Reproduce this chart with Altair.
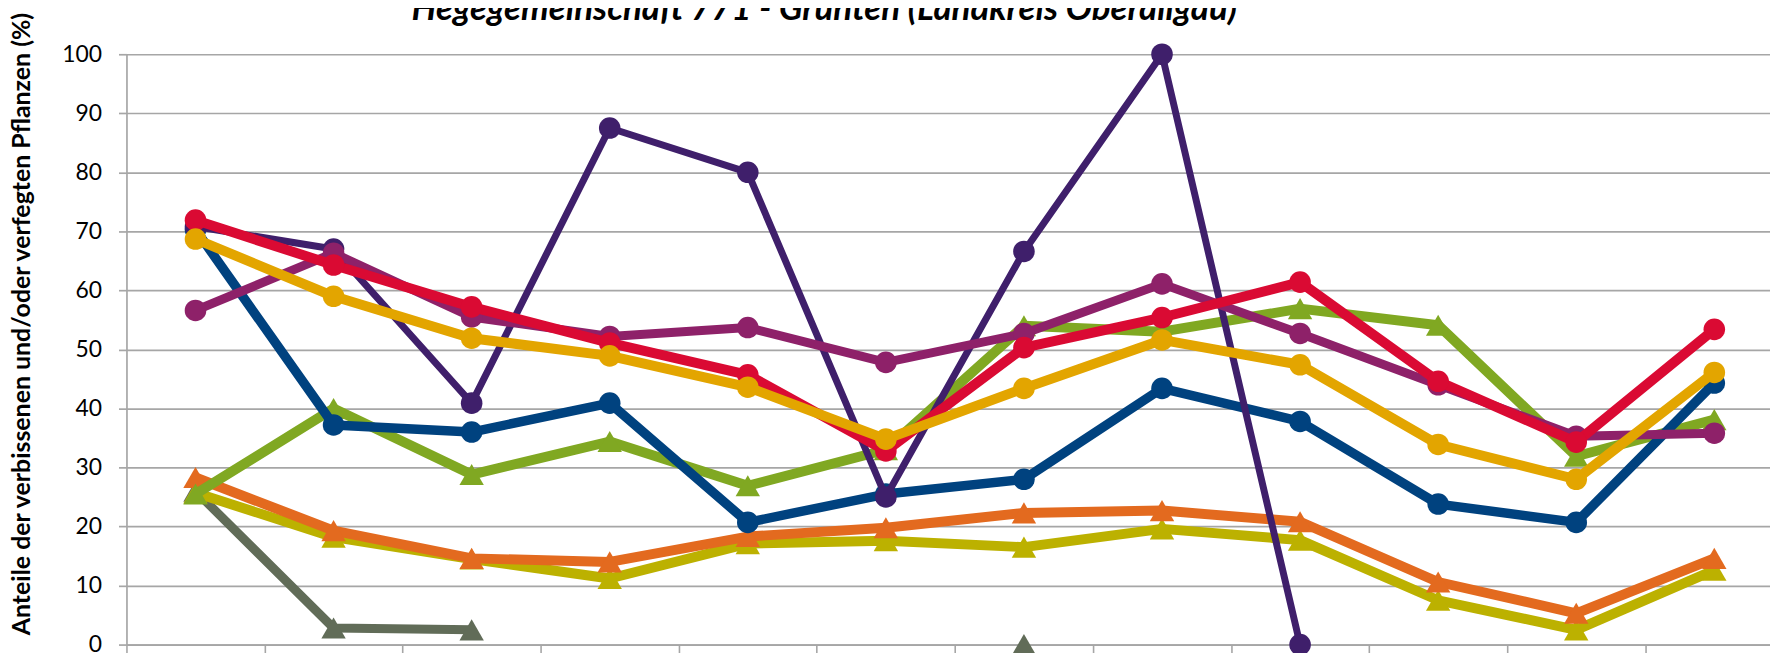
import altair as alt
import pandas as pd

# ---------------- data ----------------
years = [1991, 1994, 1997, 2000, 2003, 2006, 2009, 2012, 2015, 2018, 2021, 2024]

title_text = "Hegegemeinschaft 771 - Grünten (Landkreis Oberallgäu)"
y_title = "Anteile der verbissenen und/oder verfegten Pflanzen (%)"
y_ticks = [0, 10, 20, 30, 40, 50, 60, 70, 80, 90, 100]

s_gray = [26.0, 2.8, 2.5, None, None, None, 0.0, None, None, None, None, None]
s_olive = [25.7, 18.2, 14.5, 11.2, 17.1, 17.6, 16.5, 19.6, 17.7, 7.5, 2.5, 12.6]
s_orange = [28.3, 19.3, 14.6, 14.0, 18.3, 19.8, 22.3, 22.7, 20.8, 10.6, 5.3, 14.6]
s_green = [25.5, 40.0, 28.8, 34.4, 26.9, 33.0, 54.0, 53.0, 56.9, 54.1, 31.9, 38.1]
s_navy = [70.3, 37.2, 36.0, 40.9, 20.7, 25.5, 28.0, 43.4, 37.8, 23.8, 20.7, 44.3]
s_purple = [70.8, 67.0, 40.9, 87.5, 80.0, 25.0, 66.6, 100.0, 0.0, None, None, None]
s_magenta = [56.6, 66.3, 55.5, 52.2, 53.7, 47.8, 52.7, 61.1, 52.7, 44.0, 35.3, 35.8]
s_red = [71.9, 64.3, 57.2, 51.1, 45.7, 32.8, 50.3, 55.4, 61.4, 44.6, 34.3, 53.4]
s_gold = [68.7, 59.0, 51.9, 48.9, 43.6, 34.8, 43.4, 51.6, 47.4, 33.9, 28.0, 46.1]

# drawing order (first drawn at bottom)
series = [
    ("gray", s_gray, "#616C58", "triangle-up", 9.0),
    ("olive", s_olive, "#BCB100", "triangle-up", 10.0),
    ("orange", s_orange, "#E36A1F", "triangle-up", 10.0),
    ("green", s_green, "#80A822", "triangle-up", 10.0),
    ("navy", s_navy, "#00427F", "circle", 9.5),
    ("purple", s_purple, "#3F1F6B", "circle", 7.0),
    ("magenta", s_magenta, "#8E2169", "circle", 9.0),
    ("red", s_red, "#DA0A33", "circle", 10.0),
    ("gold", s_gold, "#E3A500", "circle", 10.0),
]

GRID = "#A6A6A6"
XMAX = -0.5 + 1651 / 138.7


def series_df(vals):
    rows = []
    run = 0
    prev_none = True
    for i, v in enumerate(vals):
        if v is None:
            if not prev_none:
                run += 1
            prev_none = True
            continue
        prev_none = False
        rows.append({"i": i, "year": years[i], "v": v, "run": run})
    return pd.DataFrame(rows)


x_enc = alt.X(
    "i:Q",
    scale=alt.Scale(domain=[-0.5, XMAX], nice=False, zero=False),
    axis=alt.Axis(
        values=[k - 0.5 for k in range(len(years))],
        labels=False, title=None, grid=False,
        domainColor=GRID, domainWidth=1.6,
        tickColor=GRID, tickWidth=1.6, tickSize=12,
    ),
)
y_enc = alt.Y(
    "v:Q",
    scale=alt.Scale(domain=[0, 100], nice=False, zero=True),
    axis=alt.Axis(
        values=y_ticks, title=None, grid=True,
        gridColor=GRID, gridWidth=1.7,
        domainColor=GRID, domainWidth=1.7,
        tickColor=GRID, tickWidth=1.7, tickSize=8,
        labelFont="Lato", labelFontSize=23, labelColor="black",
        labelPadding=17,
    ),
)

layers = []
for name, vals, color, shape, sw in series:
    df = series_df(vals)
    base = alt.Chart(df)
    layers.append(
        base.mark_line(color=color, strokeWidth=sw, strokeJoin="round").encode(
            x=x_enc, y=y_enc, detail="run:N"
        )
    )
    size = 470 if shape == "circle" else 600
    layers.append(
        base.mark_point(shape=shape, filled=True, color=color, opacity=1, size=size).encode(
            x=x_enc, y=y_enc
        )
    )

title_layer = alt.Chart(pd.DataFrame({"t": [title_text]})).mark_text(
    font="Lato", fontSize=35, fontWeight="bold", fontStyle="italic",
    align="center", baseline="alphabetic", color="black",
).encode(text="t:N", x=alt.value(701), y=alt.value(-34))

ytitle_layer = alt.Chart(pd.DataFrame({"t": [y_title]})).mark_text(
    font="Lato", fontSize=25, fontWeight="bold", angle=270,
    align="center", baseline="middle", color="black",
).encode(text="t:N", x=alt.value(-105), y=alt.value(271))

chart = alt.layer(*layers, title_layer, ytitle_layer).properties(
    width=1651,
    height=593,
    autosize=alt.AutoSizeParams(type="none"),
    padding={"left": 119, "top": 45, "right": 0, "bottom": 7},
    background="white",
).configure_view(stroke=None)

chart.save("out.html", embed_options={"renderer": "svg", "actions": False})
